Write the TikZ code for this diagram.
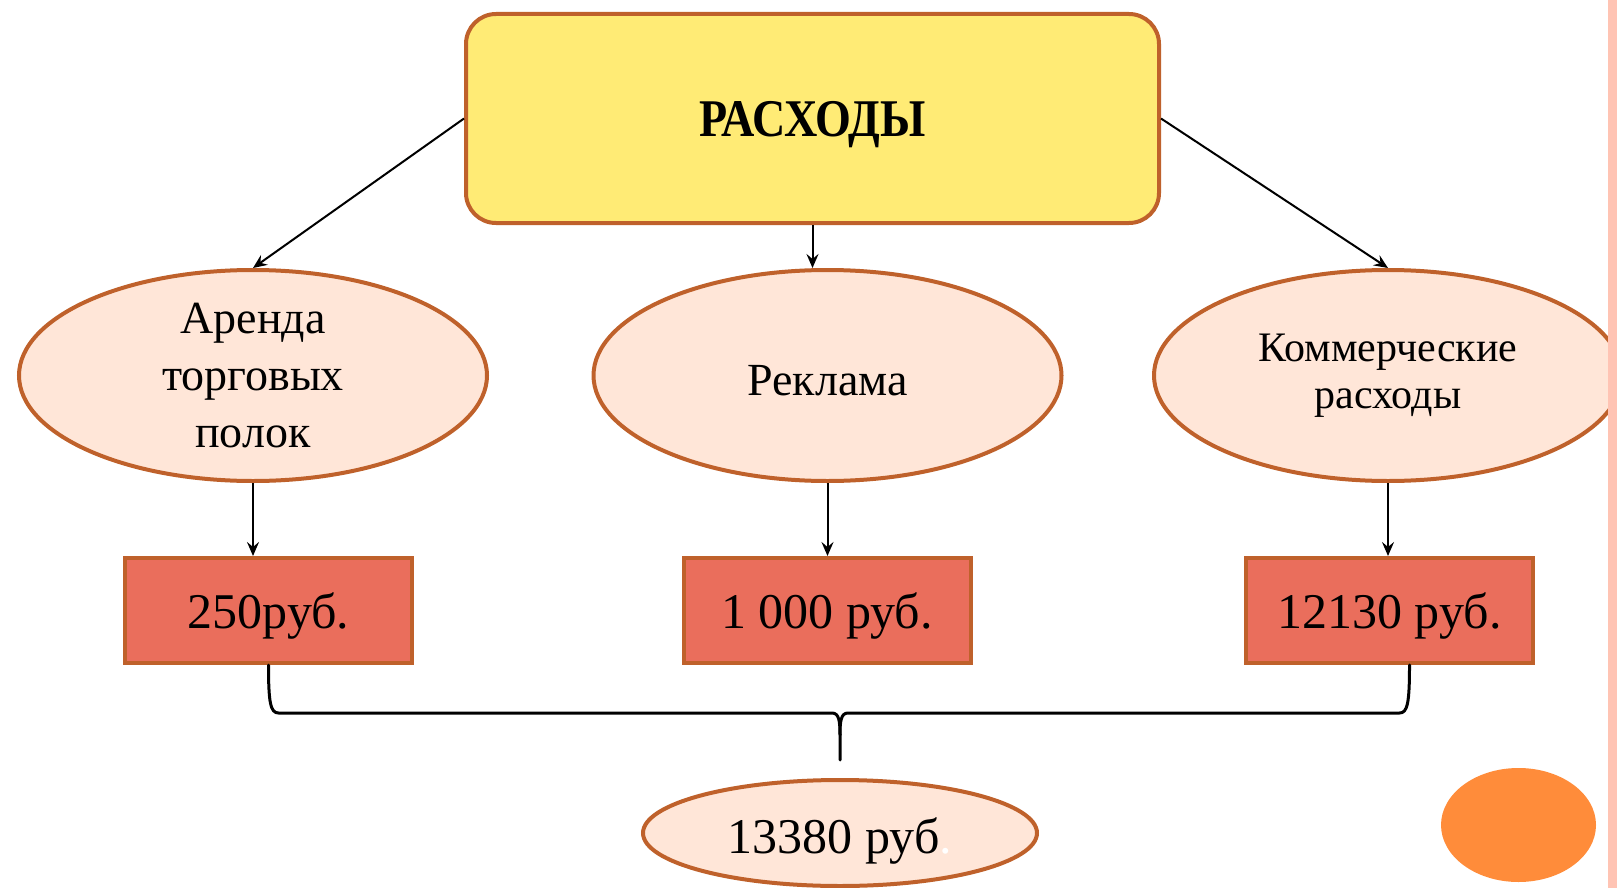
\documentclass[tikz,border=0pt]{standalone}
\usepackage{fontspec}
\setmainfont{Liberation Serif}
\usetikzlibrary{shapes.geometric,arrows.meta,calc}
\definecolor{edgebrown}{RGB}{191,97,43}
\definecolor{headfill}{RGB}{255,235,117}
\definecolor{ovalfill}{RGB}{255,230,216}
\definecolor{costfill}{RGB}{234,110,92}
\definecolor{stripfill}{RGB}{255,196,180}
\definecolor{dotfill}{RGB}{255,140,58}
\tikzset{
  headbox/.style={rectangle, rounded corners=30pt, draw=edgebrown, line width=4pt,
    fill=headfill, minimum width=693pt, minimum height=209pt, inner sep=0pt,
    text height=47pt, text depth=10pt},
  itemoval/.style={ellipse, draw=edgebrown, line width=4pt, fill=ovalfill,
    minimum width=468pt, minimum height=211pt, inner xsep=0pt, inner ysep=-40pt,
    align=center, font=\fontsize{46}{57}\selectfont},
  costbox/.style={rectangle, draw=edgebrown, line width=4pt, fill=costfill,
    minimum width=287pt, minimum height=105pt, inner sep=0pt,
    text height=46pt, text depth=10pt, font=\fontsize{50}{60}\selectfont},
  link/.style={line width=2pt, -{Stealth[length=14pt,width=12pt,inset=5pt]}},
  brace/.style={line width=3pt, line join=round, line cap=round},
}
\begin{document}
\begin{tikzpicture}[x=1pt,y=-1pt]
    \useasboundingbox (0,0) rectangle (1617,888);

    \node[headbox] (head) at (812.5,118.5)
        {\fontsize{53}{60}\selectfont\bfseries\scalebox{0.87}[1]{РАСХОДЫ}};

    \node[itemoval] (rent) at (253,375.5) {Аренда\\торговых\\полок};
    \node[itemoval, text height=49pt, text depth=10pt] (promo) at (827.5,375.5) {Реклама};
    \node[itemoval, font=\fontsize{42}{47}\selectfont] (trade) at (1388,375.5)
        {Коммерческие\\расходы};

    \node[costbox] (rentcost) at (268.5,610.5) {250руб.};
    \node[costbox] (promocost) at (827,610.5) {1 000 руб.};
    \node[costbox] (tradecost) at (1389.5,610.5) {12130 руб.};

    \node[itemoval, minimum width=394pt, minimum height=106pt, text height=48pt,
        text depth=8pt, font=\fontsize{50}{60}\selectfont] (total) at (840,833)
        {13380 руб\textcolor{white}{.}};

    \draw[link] (head.west) -- (rent.north);
    \draw[link] (head.south) -- (head.south |- promo.north);
    \draw[link] (head.east) -- (trade.north);

    \draw[link] (rent.south) -- (rent.south |- rentcost.north);
    \draw[link] (promo.south) -- (promo.south |- promocost.north);
    \draw[link] (trade.south) -- (trade.south |- tradecost.north);

    \coordinate (legL) at (rentcost.south);
    \coordinate (legR) at ($(tradecost.south)+(20,0)$);
    \coordinate (tip) at ($(total.north)+(0,-18)$);
    \coordinate (bar) at (0,713);
    \draw[brace] (legL) .. controls ($(legL |- bar)+(0,-10)$) and ($(legL |- bar)+(2,0)$) .. ($(legL |- bar)+(10,0)$)
        -- ($(tip |- bar)+(-8,0)$) .. controls ($(tip |- bar)+(-1,0)$) and ($(tip |- bar)+(0,8)$) .. ($(tip |- bar)+(0,22)$)
        -- (tip);
    \draw[brace] ($(tip |- bar)+(0,22)$) .. controls ($(tip |- bar)+(0,8)$) and ($(tip |- bar)+(1,0)$) .. ($(tip |- bar)+(8,0)$)
        -- ($(legR |- bar)+(-10,0)$) .. controls ($(legR |- bar)+(-2,0)$) and ($(legR |- bar)+(0,-10)$) .. (legR);

    \fill[dotfill] (1518.5,825) ellipse [x radius=77.5pt, y radius=57pt];
    \fill[stripfill] (1608,0) rectangle (1617,888);
\end{tikzpicture}
\end{document}
